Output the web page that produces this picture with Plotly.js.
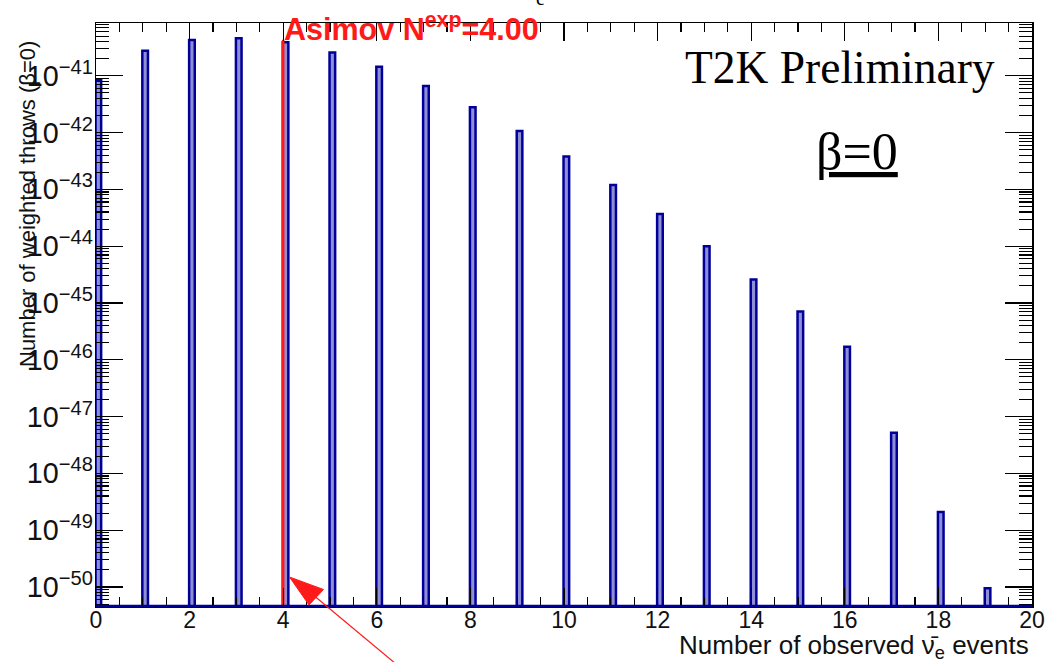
<!DOCTYPE html>
<html>
<head>
<meta charset="utf-8">
<script src="https://cdn.plot.ly/plotly-3.0.1.min.js"></script>
<style>html,body{margin:0;padding:0;background:#fff;}</style>
</head>
<body>
<div id="chart" style="width:1046px;height:662px;"></div>
<script>
// Observed nu-e-bar event counts and the summed weights of the toy throws (beta = 0)
const observedEvents = [0, 1, 2, 3, 4, 5, 6, 7, 8, 9, 10, 11, 12, 13, 14, 15, 16, 17, 18, 19];
const weightedThrows = [8.5e-42, 2.75e-41, 4.27e-41, 4.57e-41, 3.89e-41, 2.57e-41, 1.45e-41,
                        6.6e-42, 2.8e-42, 1.07e-42, 3.8e-43, 1.2e-43, 3.7e-44, 1.0e-44,
                        2.6e-45, 7.1e-46, 1.7e-46, 5.2e-48, 2.1e-49, 9.5e-51];

// Asimov expectation marker
const asimovExpected = 4.00;
const asimovLineTop = 4.3e-41;

// Frame geometry (pixels)
const W = 1046, H = 662;
const M = {l: 96, r: 14, t: 23, b: 56};
const PW = W - M.l - M.r, PH = H - M.t - M.b;
const px = x => (x - M.l) / PW;
const py = y => (H - M.b - y) / PH;

const navy = '#000099';
const red = '#ff1a1a';
const sans = 'Liberation Sans, Arial, Helvetica, sans-serif';
const serif = 'Liberation Serif, Times New Roman, serif';

const bars = {
  type: 'bar',
  x: observedEvents,
  y: weightedThrows,
  width: 0.12,
  offset: -0.01,
  marker: {color: '#8f8fd6', line: {color: navy, width: 2.5}},
  hoverinfo: 'x+y'
};

const asimovLine = {
  type: 'scatter',
  mode: 'lines',
  x: [asimovExpected, asimovExpected],
  y: [1e-53, asimovLineTop],
  line: {color: red, width: 2.5},
  hoverinfo: 'skip'
};

const axisCommon = {
  showline: true, linecolor: '#000', linewidth: 1.5, mirror: 'ticks',
  ticks: 'inside', tickcolor: '#000', tickwidth: 1.3,
  showgrid: false, zeroline: false,
  tickfont: {family: sans, size: 23, color: '#111'}
};

const layout = {
  width: W, height: H,
  margin: M,
  paper_bgcolor: '#fff', plot_bgcolor: '#fff',
  showlegend: false,
  bargap: 0,
  xaxis: Object.assign({}, axisCommon, {
    range: [0, 20], tick0: 0, dtick: 2, ticklen: 18,
    ticklabelstandoff: -7,
    minor: {ticks: 'inside', dtick: 0.5, ticklen: 9, tickcolor: '#000', tickwidth: 1.2, showgrid: false}
  }),
  yaxis: Object.assign({}, axisCommon, {
    type: 'log', range: [-50.335, -40.07], dtick: 1, ticklen: 27,
    exponentformat: 'power', showexponent: 'all',
    ticklabelstandoff: -3,
    minor: {ticks: 'inside', dtick: 'D1', ticklen: 13, tickcolor: '#000', tickwidth: 1.1, showgrid: false}
  }),
  shapes: [
    // histogram baseline along the bottom of the frame
    {type: 'line', xref: 'paper', yref: 'paper', x0: 0, x1: 1, y0: 0, y1: 0,
     line: {color: navy, width: 2.5}, layer: 'above'},
    // pointer arrow: shaft and head
    {type: 'line', xref: 'paper', yref: 'paper',
     x0: px(396), y0: py(664), x1: px(312), y1: py(594),
     line: {color: red, width: 1.2}, layer: 'above'},
    {type: 'path', xref: 'paper', yref: 'paper',
     path: 'M' + px(289.5) + ',' + py(577) + ' L' + px(323.5) + ',' + py(589.5) +
           ' L' + px(309) + ',' + py(605) + ' Z',
     fillcolor: red, line: {color: red, width: 1}, layer: 'above'}
  ],
  annotations: [
    {xref: 'paper', yref: 'paper', x: px(28), y: py(204), xanchor: 'center', yanchor: 'middle',
     textangle: -90, showarrow: false,
     text: 'Number of weighted throws (β=0)',
     font: {family: sans, size: 22, color: '#111'}},
    {xref: 'paper', yref: 'paper', x: px(1031), y: py(646), xanchor: 'right', yanchor: 'middle',
     showarrow: false,
     text: 'Number of observed ν\u0304<sub>e</sub> events',
     font: {family: sans, size: 26, color: '#111'}},
    {xref: 'paper', yref: 'paper', x: px(282), y: py(27), xanchor: 'left', yanchor: 'middle',
     showarrow: false,
     text: '<b>Asimov N<sup>exp</sup>=' + asimovExpected.toFixed(2) + '</b>',
     font: {family: sans, size: 30.5, color: red}},
    {xref: 'paper', yref: 'paper', x: px(997), y: py(67), xanchor: 'right', yanchor: 'middle',
     showarrow: false, text: 'T2K Preliminary',
     font: {family: serif, size: 45.5, color: '#000'}},
    {xref: 'paper', yref: 'paper', x: px(857), y: py(152), xanchor: 'center', yanchor: 'middle',
     showarrow: false,
     text: '<span style="text-decoration:underline">β=0</span>',
     font: {family: serif, size: 52, color: '#000'}},
    {xref: 'paper', yref: 'paper', x: px(540), y: py(-2), xanchor: 'center', yanchor: 'middle',
     showarrow: false, text: 'e',
     font: {family: serif, size: 20, color: '#000'}}
  ]
};

Plotly.newPlot('chart', [bars, asimovLine], layout, {displayModeBar: false, staticPlot: true});
</script>
</body>
</html>
